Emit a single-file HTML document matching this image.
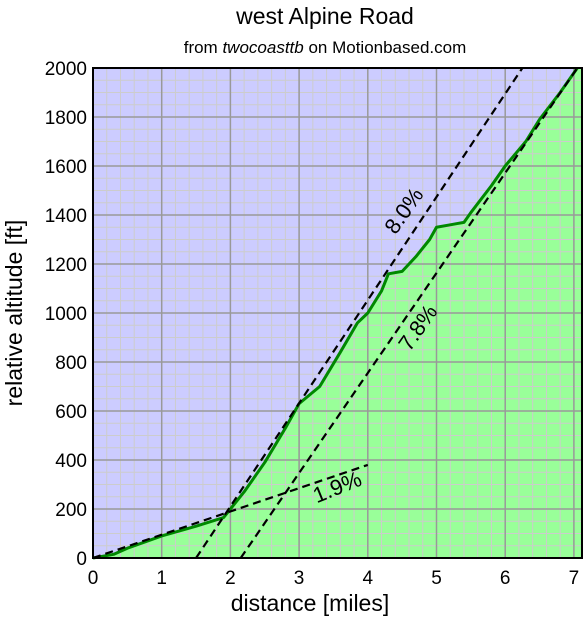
<!DOCTYPE html>
<html><head><meta charset="utf-8"><style>
body{margin:0;background:#fff;}
svg text{font-family:"Liberation Sans",sans-serif;}
</style></head><body>
<svg id="c" width="586" height="617" xmlns="http://www.w3.org/2000/svg">
<text x="325" y="24" font-size="23" text-anchor="middle">west Alpine Road</text>
<text x="325" y="53" font-size="17" text-anchor="middle">from <tspan font-style="italic">twocoasttb</tspan> on Motionbased.com</text>
<text x="310" y="611" font-size="23" text-anchor="middle">distance [miles]</text>
<text transform="translate(22,313) rotate(-90)" font-size="23" text-anchor="middle">relative altitude [ft]</text>
<g id="plot"></g>
</svg>
<script>
const profDist=[0,0.3,0.5,1,1.5,1.9,2.0,2.2,2.5,2.8,3.0,3.3,3.6,3.85,4.0,4.2,4.3,4.5,4.6,4.7,4.9,5.0,5.2,5.3,5.4,5.5,5.8,6.0,6.3,6.5,6.8,7.05];
const profAlt=[0,15,40,90,130,165,200,270,390,530,630,700,840,960,1000,1090,1160,1170,1200,1230,1300,1350,1360,1365,1370,1410,1520,1600,1700,1790,1900,2000];
const grades=[
 {label:"1.9%",x0:0,y0:0,x1:4,y1:380},
 {label:"7.8%",x0:2.15,y0:0,x1:7.05,y1:2000},
 {label:"8.0%",x0:1.5,y0:0,x1:6.25,y1:2000}];
const xTicks=[0,1,2,3,4,5,6,7];
const yTicks=[0,200,400,600,800,1000,1200,1400,1600,1800,2000];
const L=93,T=68,R=582,B=558,XMAX=7.1,YMAX=2000;
const sx=v=>L+v*68.7, sy=v=>B-v*(B-T)/YMAX;
const NS="http://www.w3.org/2000/svg",g=document.getElementById('plot');
function mk(t,a){const e=document.createElementNS(NS,t);for(const k in a)e.setAttribute(k,a[k]);g.appendChild(e);return e;}
let bg=mk('rect',{x:L,y:T,width:R-L,height:B-T,fill:'#ccccff'});


let pts=profDist.map((d,i)=>sx(d)+','+sy(profAlt[i])).join(' ');
let area=mk('polygon',{points:sx(0)+','+B+' '+pts+' '+R+','+T+' '+R+','+B,fill:'#99ff99'});


for(let m=0;m<=XMAX;m+=0.2){const x=sx(m);if(x>R)break;let l=mk('line',{x1:x,x2:x,y1:T,y2:B,stroke:'#cccccc','stroke-width':1});}
for(let v=0;v<=YMAX;v+=50){const y=sy(v);let l=mk('line',{x1:L,x2:R,y1:y,y2:y,stroke:'#cccccc','stroke-width':1});}
xTicks.forEach(v=>{const x=sx(v);let l=mk('line',{x1:x,x2:x,y1:T,y2:B,stroke:'#999','stroke-width':1.5});
 let t=mk('text',{x:x,y:584,'font-size':19,'text-anchor':'middle'});t.textContent=v;});
yTicks.forEach(v=>{const y=sy(v);let l=mk('line',{x1:L,x2:R,y1:y,y2:y,stroke:'#999','stroke-width':1.5});
 let t=mk('text',{x:87,y:y+7,'font-size':19,'text-anchor':'end'});t.textContent=v;});
let line=mk('polyline',{points:pts,fill:'none',stroke:'#008800','stroke-width':3,'stroke-linejoin':'round'});


grades.forEach((gr,i)=>{let l=mk('line',{x1:sx(gr.x0),y1:sy(gr.y0),x2:sx(gr.x1),y2:sy(gr.y1),stroke:'#000','stroke-width':2.2,'stroke-dasharray':'8,5'});
 });
const lbl=[[340,494,-22,"1.9%"],[424,332,-55,"7.8%"],[410,215,-55,"8.0%"]];
lbl.forEach(a=>{let t=mk('text',{transform:`translate(${a[0]},${a[1]}) rotate(${a[2]})`,'font-size':22,'text-anchor':'middle'});t.textContent=a[3];
 });
let fr=mk('rect',{x:L,y:T,width:R-L,height:B-T,fill:'none',stroke:'#000','stroke-width':2});


</script>
</body></html>
